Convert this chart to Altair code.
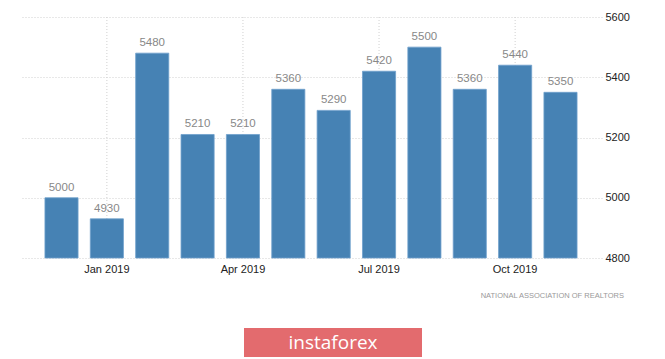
import altair as alt
import pandas as pd

months = ["Dec 2018", "Jan 2019", "Feb 2019", "Mar 2019", "Apr 2019", "May 2019",
          "Jun 2019", "Jul 2019", "Aug 2019", "Sep 2019", "Oct 2019", "Nov 2019"]
values = [5000, 4930, 5480, 5210, 5210, 5360, 5290, 5420, 5500, 5360, 5440, 5350]
tick_months = ["Jan 2019", "Apr 2019", "Jul 2019", "Oct 2019"]
y_ticks = [4800, 5000, 5200, 5400, 5600]
source_text = "NATIONAL  ASSOCIATION  OF  REALTORS"
logo_text = "instaforex"

df = pd.DataFrame({"month": months, "value": values})
ticks_df = pd.DataFrame({"month": tick_months})

FONT = "Liberation Sans"

x = alt.X(
    "month:N",
    sort=months,
    scale=alt.Scale(paddingInner=0.27, paddingOuter=0.55),
    axis=alt.Axis(
        title=None, values=tick_months, labelAngle=0, ticks=False, domain=False,
        grid=False,
        labelFont=FONT, labelFontSize=11, labelColor="#222222", labelPadding=5,
    ),
)
y = alt.Y(
    "value:Q",
    scale=alt.Scale(domain=[4800, 5600], zero=False, nice=False),
    axis=alt.Axis(
        title=None, orient="right", values=y_ticks, ticks=False, domain=False,
        format="d",
        grid=True, gridDash=[1, 2], gridColor="#d0d0d0",
        labelFont=FONT, labelFontSize=11, labelColor="#222222", labelPadding=3,
    ),
)

base = alt.Chart(df)
vgrid = alt.Chart(ticks_df).mark_rule(color="#d0d0d0", strokeDash=[1, 2]).encode(
    x=x
)
bars = base.mark_bar(color="#4682b4", stroke="#6f9fcb", strokeWidth=0.8).encode(
    x=x, y=y, y2=alt.datum(4800)
)
labels = base.mark_text(
    font=FONT, fontSize=11.5, color="#888888", baseline="alphabetic", dy=-7
).encode(x=x, y=y, text="value:Q")

src = alt.Chart(pd.DataFrame({"t": [source_text]})).mark_text(
    font=FONT, fontSize=7.5, color="#999999", align="right", baseline="middle"
).encode(x=alt.value(604), y=alt.value(279), text="t:N")

logo_rect = alt.Chart(pd.DataFrame({"t": [logo_text]})).mark_rect(
    color="#e36b6e"
).encode(x=alt.value(224), x2=alt.value(402), y=alt.value(311), y2=alt.value(340))
logo_txt = alt.Chart(pd.DataFrame({"t": [logo_text]})).mark_text(
    font="Open Sans", fontSize=19, color="white", align="center", baseline="middle"
).encode(x=alt.value(313), y=alt.value(326), text="t:N")

chart = alt.layer(vgrid, bars, labels, src, logo_rect, logo_txt).properties(
    width=582, height=241,
    background="white",
    padding={"left": 12, "top": 9, "right": 40, "bottom": 99},
    autosize=alt.AutoSizeParams(type="none"),
).configure_view(stroke="transparent", strokeWidth=0)

chart.save("out.html", embed_options={"renderer": "svg", "actions": False})
